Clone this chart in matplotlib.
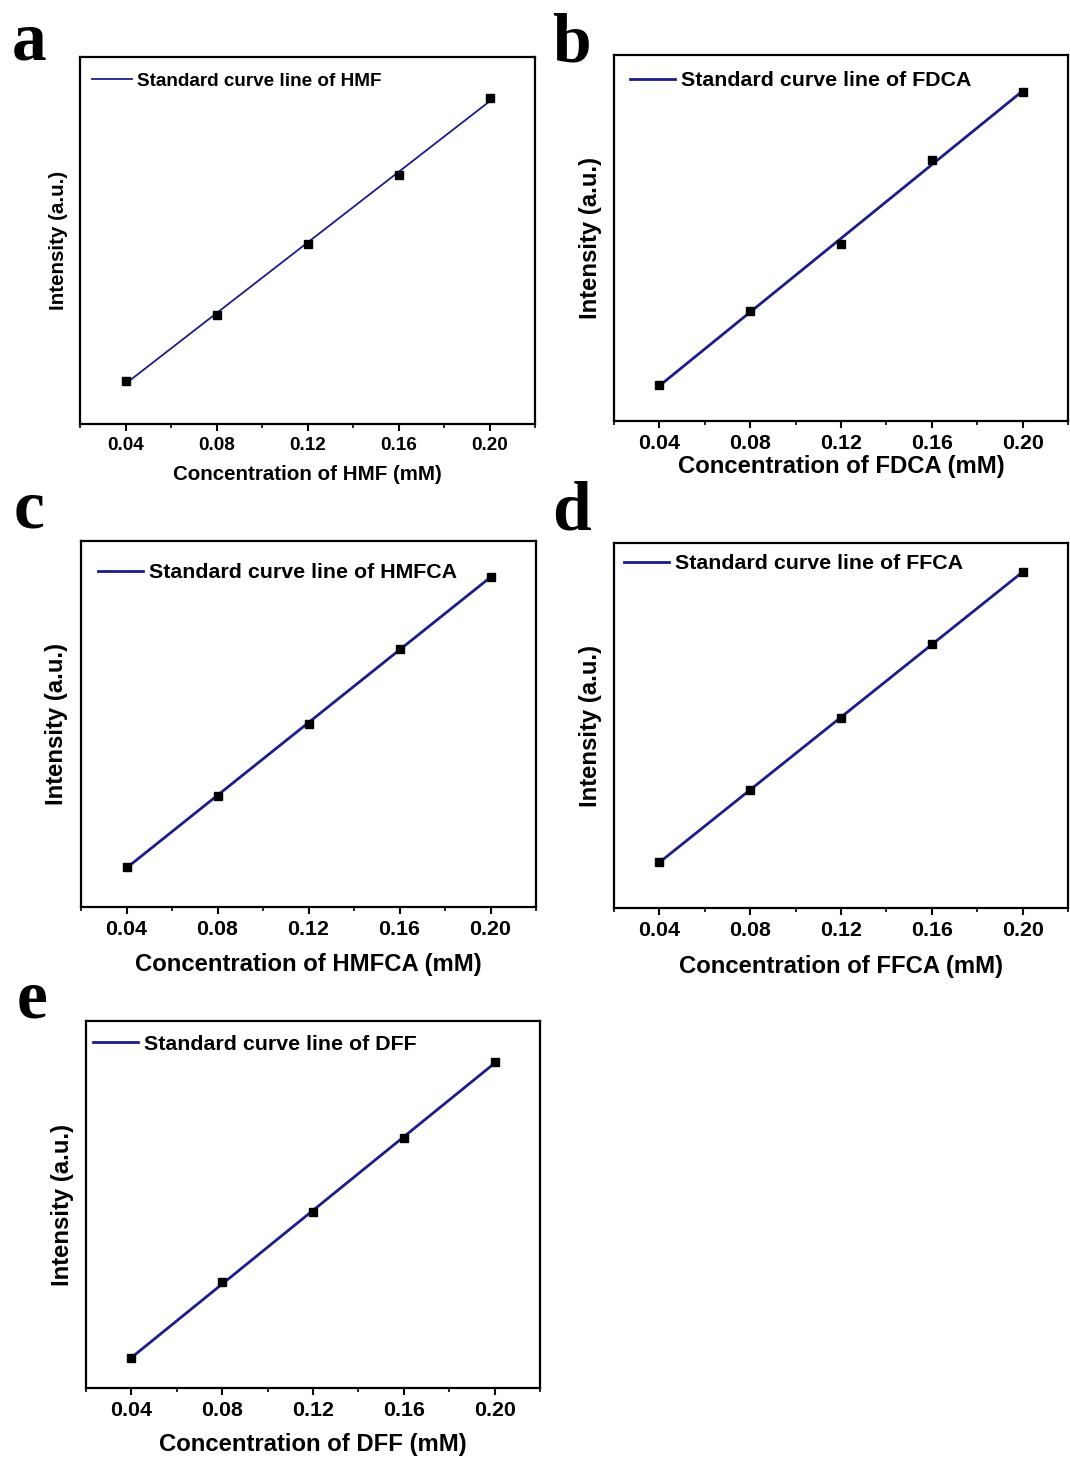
import numpy as np
import matplotlib.pyplot as plt
from matplotlib.ticker import MultipleLocator

# concentration of each standard, mM
conc = [0.04, 0.08, 0.12, 0.16, 0.20]

# peak intensity (arbitrary units)
int_hmf = [43, 109, 180, 249, 326]
int_fdca = [36, 110, 177, 261, 329]
int_hmfca = [40, 111, 183, 258, 330]
int_ffca = [46, 118, 190, 264, 336]
int_dff = [30, 106, 176, 250, 326]

names = ['HMF', 'FDCA', 'HMFCA', 'FFCA', 'DFF']
letters = ['a', 'b', 'c', 'd', 'e']
series = [int_hmf, int_fdca, int_hmfca, int_ffca, int_dff]

W, H = 1070, 1461
# pixel boxes (left, top, right, bottom) of each panel
boxes = [(80, 57, 535, 424), (614, 55, 1068, 421), (81, 541, 536, 907),
         (614, 543, 1068, 908), (86, 1021, 540, 1388)]
letter_pos = [(12, 60), (552, 62), (14, 527), (552, 529), (17, 1018)]
# legend left / centre y, x-label centre y, y-label centre x (pixels)
legend_pos = [(92, 81), (630, 81), (98, 573), (624, 564), (93, 1044)]
xlabel_y = [475, 466, 965, 967, 1445]
ylabel_x = [58, 590, 57, 590, 62]
# font sizes: (tick, label, legend, linewidth)
styles = [(13.6, 14.8, 13.6, 1.3), (15.4, 17.2, 15.4, 2), (15.4, 17.2, 15.4, 2),
          (15.4, 17.2, 15.4, 2), (15.4, 17.2, 15.4, 2)]

plt.rcParams['font.family'] = 'Liberation Sans'
plt.rcParams['font.weight'] = 'bold'

fig = plt.figure(figsize=(W / 100, H / 100), dpi=100)

for i in range(5):
    l, t, r, b = boxes[i]
    ax = fig.add_axes([l / W, 1 - b / H, (r - l) / W, (b - t) / H])
    y = series[i]
    ts, ls, gs, lw = styles[i]
    k, c0 = np.polyfit(conc, y, 1)
    xs = np.array([conc[0], conc[-1]])
    ax.plot(xs, k * xs + c0, color='#1c1c8a', lw=lw,
            label='Standard curve line of ' + names[i])
    ax.plot(conc, y, 's', color='black', ms=6, zorder=3)
    ax.set_xlim(0.02, 0.22)
    ax.set_ylim(0, b - t)
    ax.xaxis.set_minor_locator(MultipleLocator(0.02))
    ax.set_xticks(conc)
    ax.set_xticklabels(['%.2f' % c for c in conc])
    ax.set_yticks([])
    ax.tick_params(axis='x', which='major', direction='out', length=5, width=1.5,
                   labelsize=ts, pad=4.5)
    ax.tick_params(axis='x', which='minor', direction='out', length=3, width=1.2)
    for s in ax.spines.values():
        s.set_linewidth(1.6)
    ax.set_xlabel('Concentration of %s (mM)' % names[i], fontsize=ls,
                  fontweight='bold')
    ax.xaxis.set_label_coords(0.5, (b - xlabel_y[i]) / (b - t))
    ax.xaxis.label.set_va('center')
    ax.set_ylabel('Intensity (a.u.)', fontsize=ls, fontweight='bold')
    ax.yaxis.set_label_coords((ylabel_x[i] - l) / (r - l), 0.5)
    ax.yaxis.label.set_va('center')
    gx, gy = legend_pos[i]
    ax.legend(loc='center left', bbox_to_anchor=(gx / W, 1 - gy / H),
              bbox_transform=fig.transFigure, frameon=False, fontsize=gs,
              handlelength=2.1, handletextpad=0.3, borderpad=0, borderaxespad=0)
    lx, ly = letter_pos[i]
    fig.text(lx / W, 1 - ly / H, letters[i], family='Liberation Serif',
             fontweight='bold', fontsize=50, ha='left', va='baseline')

fig.savefig('out.png', dpi=100)
